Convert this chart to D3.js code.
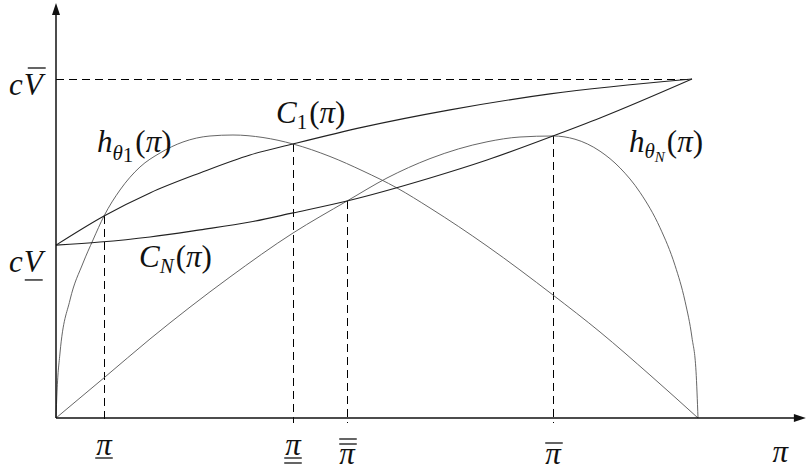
<!DOCTYPE html>
<html>
<head>
<meta charset="utf-8">
<script src="https://cdnjs.cloudflare.com/ajax/libs/d3/7.8.5/d3.min.js"></script>
<style>
body { margin: 0; background: #fff; }
text { font-family: "Liberation Serif", "DejaVu Serif", serif; font-size: 31px; fill: #111; }
</style>
</head>
<body>
<div id="chart-area"></div>
<script>
// x: pi (100 = right end of the h curves), y: value (100 = c * V bar)
var hTheta1 = [[0,0],[0.156,7.67],[0.623,19.17],[2.18,34.81],[4.21,45.72],[5.76,52.51],[7.48,59.59],
    [9.97,67.26],[13.08,74.04],[16.2,78.17],[19.78,81.42],[23.99,83.19],[27.57,83.48],[32.24,82.74],
    [36.92,80.83],[42.68,77.14],[47.82,72.86],[53.12,67.85],[58.26,61.95],[67.13,50.74],[77.41,36.28],
    [84.74,25.37],[92.52,12.68],[100,0]];
var hThetaN = [[0,0],[7.63,12.09],[14.64,23.3],[27.1,41.59],[36.92,54.57],[45.33,64.01],[51.56,70.8],
    [58.26,76.52],[67.13,81.47],[72.27,82.89],[77.41,83.19],[80.84,82.24],[84.74,78.7],[87.85,73.78],
    [90.97,66.55],[94.08,56.14],[96.42,45.01],[97.98,34.45],[99.07,23.63],[99.69,13.81],[100,0]];
var c1 = [[0,51.0],[7.48,59.59],[14.64,66.4],[22.43,72.3],[30.22,77.6],[36.92,80.83],[47.82,85.8],
    [61.37,90.9],[76.95,95.6],[99.07,100]];
var cN = [[0,51.0],[6.85,51.9],[14.64,53.4],[22.43,55.5],[30.22,57.8],[36.92,60.5],[45.33,64.01],
    [58.26,70.8],[67.13,76.1],[77.41,83.19],[84.74,88.5],[99.07,100]];

var cVbar = 100;
var cVbarEnd = 99.07;
var dropX = [7.48, 36.92, 45.33, 77.41];
var dropY = [59.59, 80.83, 64.01, 83.19];
var dropMarks = ["under", "under2", "over2", "over"];
var yTickValues = [100, 47.8];
var yTickMarks = ["over", "under"];
var xAxisLabelAt = 112.8;
var xAxisEnd = 116.8, yAxisEnd = 122.4;

var w = 806, h = 474;
var svg = d3.select("#chart-area").append("svg")
    .attr("width", w)
    .attr("height", h);

var x = d3.scaleLinear().domain([0, 100]).range([56, 698]);
var y = d3.scaleLinear().domain([0, 100]).range([418, 79]);

var line = d3.line()
    .x(function(d) { return x(d[0]); })
    .y(function(d) { return y(d[1]); })
    .curve(d3.curveMonotoneX);

// dashed guides
svg.append("line")
    .attr("x1", x(0)).attr("x2", x(cVbarEnd))
    .attr("y1", Math.round(y(cVbar)) + 0.5).attr("y2", Math.round(y(cVbar)) + 0.5)
    .attr("stroke", "#000").attr("stroke-width", 1)
    .attr("stroke-dasharray", "8,5");

svg.selectAll(".drop")
    .data(dropX)
    .enter().append("line")
    .attr("class", "drop")
    .attr("x1", function(d) { return Math.round(x(d)) + 0.5; })
    .attr("x2", function(d) { return Math.round(x(d)) + 0.5; })
    .attr("y1", function(d, i) { return y(dropY[i]); })
    .attr("y2", y(0) + 5)
    .attr("stroke", "#000").attr("stroke-width", 1)
    .attr("stroke-dasharray", "8,5");

// curves
svg.append("path").datum(hTheta1).attr("d", line)
    .attr("fill", "none").attr("stroke", "#555").attr("stroke-width", 0.9);
svg.append("path").datum(hThetaN).attr("d", line)
    .attr("fill", "none").attr("stroke", "#555").attr("stroke-width", 0.9);
svg.append("path").datum(c1).attr("d", line)
    .attr("fill", "none").attr("stroke", "#222").attr("stroke-width", 1.1);
svg.append("path").datum(cN).attr("d", line)
    .attr("fill", "none").attr("stroke", "#222").attr("stroke-width", 1.1);

// axes with arrows
svg.append("line")
    .attr("x1", x(0)).attr("x2", x(xAxisEnd) - 8)
    .attr("y1", y(0)).attr("y2", y(0))
    .attr("stroke", "#111").attr("stroke-width", 1.5);
svg.append("line")
    .attr("x1", x(0)).attr("x2", x(0))
    .attr("y1", y(0)).attr("y2", y(yAxisEnd) + 8)
    .attr("stroke", "#111").attr("stroke-width", 1.5);
var xt = x(xAxisEnd), yt = y(yAxisEnd);
svg.append("path")
    .attr("d", "M" + xt + "," + y(0) + "L" + (xt - 12) + "," + (y(0) - 4) + "L" + (xt - 12) + "," + (y(0) + 4) + "Z")
    .attr("fill", "#111");
svg.append("path")
    .attr("d", "M" + x(0) + "," + yt + "L" + (x(0) - 4) + "," + (yt + 12) + "L" + (x(0) + 4) + "," + (yt + 12) + "Z")
    .attr("fill", "#111");

// math text helper
function mathText(x0, y0, parts, anchor) {
    var t = svg.append("text").attr("x", x0).attr("y", y0)
        .attr("text-anchor", anchor || "start");
    parts.forEach(function(p) {
        t.append("tspan").text(p.s)
            .attr("font-style", p.up ? "normal" : "italic")
            .attr("font-size", (p.size || 31) + "px")
            .attr("dx", p.dx || 0)
            .attr("dy", p.dy || 0);
    });
    return t;
}

function bar(x1, x2, yy) {
    svg.append("line")
        .attr("x1", x1).attr("x2", x2)
        .attr("y1", yy).attr("y2", yy)
        .attr("stroke", "#111").attr("stroke-width", 1.3);
}

// curve labels
mathText(97, 152, [{s:"h"},{s:"θ", size:21, dy:8},{s:"1", up:true, size:21, dy:2},
    {s:"(", up:true, dy:-10, dx:2},{s:"π"},{s:")", up:true}]);
mathText(276, 123, [{s:"C"},{s:"1", up:true, size:21, dy:6},
    {s:"(", up:true, dy:-6, dx:2},{s:"π"},{s:")", up:true}]);
mathText(139, 267, [{s:"C"},{s:"N", size:21, dy:6},
    {s:"(", up:true, dy:-6, dx:2},{s:"π"},{s:")", up:true}]);
mathText(629, 152, [{s:"h"},{s:"θ", size:21, dy:6},{s:"N", size:15, dy:4},
    {s:"(", up:true, dy:-10, dx:2},{s:"π"},{s:")", up:true}]);

// y labels: c V with over/under bar
yTickValues.forEach(function(v, i) {
    var base = y(v) + 16;
    var c = mathText(9, base, [{s:"c"}]);
    var cw = c.node().getComputedTextLength();
    var V = mathText(9 + cw + 1, base, [{s:"V"}]);
    var vw = V.node().getComputedTextLength();
    var x1 = 9 + cw + 3, x2 = 9 + cw + vw + 2;
    if (yTickMarks[i] === "over") bar(x1 + 2, x2 + 2, base - 27);
    else bar(x1 - 1, x2 - 1, base + 8);
});

// x labels: pi with bars
dropX.forEach(function(v, i) {
    var m = dropMarks[i];
    var base = (m === "under" || m === "under2") ? 455 : 464;
    var cx = Math.round(x(v));
    var t = mathText(cx, base, [{s:"π"}], "middle");
    var tw = t.node().getComputedTextLength() + 2;
    if (m === "under") bar(cx - tw / 2, cx + tw / 2, base + 3);
    if (m === "under2") { bar(cx - tw / 2, cx + tw / 2, base + 3); bar(cx - tw / 2, cx + tw / 2, base + 8); }
    if (m === "over") bar(cx - tw / 2 + 1, cx + tw / 2 + 1, base - 21);
    if (m === "over2") { bar(cx - tw / 2 + 1, cx + tw / 2 + 1, base - 25); bar(cx - tw / 2 + 1, cx + tw / 2 + 1, base - 20); }
});
mathText(x(xAxisLabelAt), 462, [{s:"π"}], "middle");
</script>
</body>
</html>
